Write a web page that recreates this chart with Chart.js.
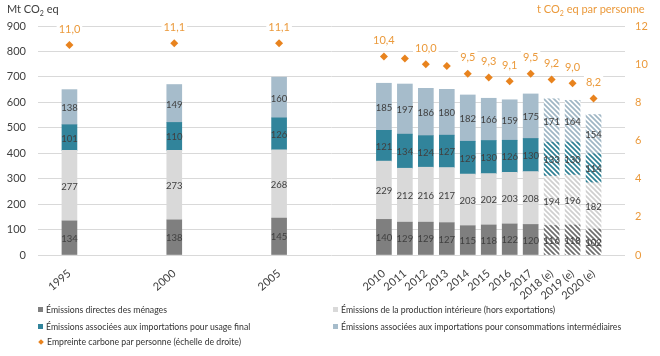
<!DOCTYPE html>
<html>
<head>
<meta charset="utf-8">
<script src="https://cdn.jsdelivr.net/npm/chart.js@4.4.1/dist/chart.umd.min.js"></script>
<style>
  html, body { margin: 0; padding: 0; background: #fff; }
  #wrap { position: relative; width: 660px; height: 356px; font-family: Lato, "Open Sans", sans-serif; }
  #c { position: absolute; left: 0; top: 0; }
  .ttl { position: absolute; font-size: 11px; white-space: nowrap; line-height: 1; }
  .leg { position: absolute; font-size: 8.7px; color: #333; white-space: nowrap; line-height: 1; }
  .leg i { display: inline-block; width: 5px; height: 5px; margin-right: 3px; vertical-align: 1px; }
  .leg i.dia { width: 4px; height: 4px; transform: rotate(45deg); margin-left: 1px; margin-right: 4px; }
</style>
</head>
<body>
<div id="wrap">
  <canvas id="c" width="660" height="356"></canvas>
  <div class="ttl" style="left:7px; top:3px; color:#404040;">Mt CO<sub style="font-size:7px;">2</sub> eq</div>
  <div class="ttl" style="left:537px; top:3px; color:#EB9A3C;">t CO<sub style="font-size:7px;">2</sub> eq par personne</div>
  <div id="legend"></div>
</div>
<script>
// ---- data ----
const years = [1995, 2000, 2005, 2010, 2011, 2012, 2013, 2014, 2015, 2016, 2017, 2018, 2019, 2020];
const yearLabels = ['1995', '2000', '2005', '2010', '2011', '2012', '2013', '2014', '2015', '2016', '2017', '2018 (e)', '2019 (e)', '2020 (e)'];
const directHouseholds   = [134, 138, 145, 140, 129, 129, 127, 115, 118, 122, 120, 116, 118, 102];
const domesticProduction = [277, 273, 268, 229, 212, 216, 217, 203, 202, 203, 208, 194, 196, 182];
const importsFinalUse    = [101, 110, 126, 121, 134, 124, 127, 129, 130, 126, 130, 133, 130, 114];
const importsIntermediate= [138, 149, 160, 185, 197, 186, 180, 182, 166, 159, 175, 171, 164, 154];
const perPerson          = [11.0, 11.1, 11.1, 10.4, 10.3, 10.0, 9.9, 9.5, 9.3, 9.1, 9.5, 9.2, 9.0, 8.2];
const perPersonLabels    = ['11,0', '11,1', '11,1', '10,4', '', '10,0', '', '9,5', '9,3', '9,1', '9,5', '9,2', '9,0', '8,2'];
const seriesNames = [
  'Émissions directes des ménages',
  'Émissions de la production intérieure (hors exportations)',
  'Émissions associées aux importations pour usage final',
  'Émissions associées aux importations pour consommations intermédiaires',
  'Empreinte carbone par personne (échelle de droite)'
];
const leftTicks = [0, 100, 200, 300, 400, 500, 600, 700, 800, 900];
const rightTicks = [0, 2, 4, 6, 8, 10, 12];

// ---- styles ----
const colors = ['#7f7f7f', '#d9d9d9', '#31849b', '#a6bccb'];
const hatchColors = ['#6f6f6f', '#cfcfcf', '#2f8094', '#9fb6c4'];
const orange = '#E8831E';
const orangeText = '#EB9A3C';

function hatch(color) {
  const s = 5;
  const c = document.createElement('canvas');
  c.width = s; c.height = s;
  const g = c.getContext('2d');
  g.fillStyle = '#ffffff';
  g.fillRect(0, 0, s, s);
  g.strokeStyle = color;
  g.lineWidth = 1.7;
  g.beginPath();
  g.moveTo(-1, -1); g.lineTo(s + 1, s + 1);
  g.moveTo(-s - 1, -1); g.lineTo(1, s + 1);
  g.moveTo(s - 1, -1); g.lineTo(2 * s + 1, s + 1);
  g.stroke();
  return g.createPattern(c, 'repeat');
}
const estimated = yearLabels.map(l => l.indexOf('(e)') >= 0);
const labelOf = {};
years.forEach((y, i) => { labelOf[y] = yearLabels[i]; });

function barDataset(name, values, idx) {
  const pat = hatch(hatchColors[idx]);
  return {
    type: 'bar',
    label: name,
    data: years.map((y, i) => ({ x: y, y: values[i] })),
    backgroundColor: years.map((y, i) => estimated[i] ? pat : colors[idx]),
    borderWidth: 0,
    barThickness: 15,
    yAxisID: 'y',
    order: 2
  };
}

const valueLabelPlugin = {
  id: 'valueLabels',
  afterDatasetsDraw(chart) {
    const ctx = chart.ctx;
    ctx.save();
    ctx.textAlign = 'center';
    ctx.textBaseline = 'middle';
    // bar labels
    ctx.font = '9.5px Lato';
    ctx.fillStyle = '#404040';
    for (let d = 0; d < 4; d++) {
      const meta = chart.getDatasetMeta(d);
      const ds = chart.data.datasets[d];
      meta.data.forEach((el, i) => {
        const p = el.getProps(['x', 'y', 'base'], true);
        ctx.fillText(String(ds.data[i].y), p.x, (p.y + p.base) / 2 + 1);
      });
    }
    // per-person labels
    const meta = chart.getDatasetMeta(4);
    ctx.font = '11px Lato';
    meta.data.forEach((el, i) => {
      const t = perPersonLabels[i];
      if (!t) return;
      const p = el.getProps(['x', 'y'], true);
      const w = ctx.measureText(t).width;
      const ty = p.y - 16;
      ctx.fillStyle = '#ffffff';
      ctx.fillRect(p.x - w / 2 - 2, ty - 7, w + 4, 14);
      ctx.fillStyle = orangeText;
      ctx.fillText(t, p.x, ty);
    });
    ctx.restore();
  }
};

Chart.defaults.font.family = 'Lato, "Open Sans", sans-serif';

new Chart(document.getElementById('c'), {
  type: 'bar',
  data: {
    datasets: [
      barDataset(seriesNames[0], directHouseholds, 0),
      barDataset(seriesNames[1], domesticProduction, 1),
      barDataset(seriesNames[2], importsFinalUse, 2),
      barDataset(seriesNames[3], importsIntermediate, 3),
      {
        type: 'line',
        label: seriesNames[4],
        data: years.map((y, i) => ({ x: y, y: perPerson[i] })),
        yAxisID: 'y1',
        showLine: false,
        pointStyle: 'rectRot',
        pointRadius: 4,
        pointBackgroundColor: orange,
        pointBorderColor: orange,
        pointBorderWidth: 0,
        order: 1
      }
    ]
  },
  options: {
    responsive: false,
    animation: false,
    devicePixelRatio: 1,
    layout: { padding: { top: 26, left: 0, right: 0, bottom: 0 } },
    plugins: { legend: { display: false }, tooltip: { enabled: false } },
    scales: {
      x: {
        type: 'linear',
        stacked: true,
        min: 1994.5,
        max: 2020.5,
        grid: { display: false },
        border: { display: false },
        afterBuildTicks: (s) => { s.ticks = years.map(v => ({ value: v })); },
        afterFit: (s) => { s.height = 101; },
        ticks: {
          autoSkip: false,
          minRotation: 40,
          maxRotation: 40,
          padding: 4,
          color: '#404040',
          font: { size: 11 },
          callback: (v) => labelOf[v] || ''
        }
      },
      y: {
        stacked: true,
        position: 'left',
        min: 0,
        max: 900,
        afterBuildTicks: (s) => { s.ticks = leftTicks.map(v => ({ value: v })); },
        afterFit: (s) => { s.width = 38; },
        grid: { color: '#d9d9d9', drawTicks: false, lineWidth: 1 },
        border: { display: false },
        ticks: { color: '#404040', font: { size: 11 }, padding: 12 }
      },
      y1: {
        position: 'right',
        min: 0,
        max: 12,
        afterBuildTicks: (s) => { s.ticks = rightTicks.map(v => ({ value: v })); },
        afterFit: (s) => { s.width = 35; },
        grid: { drawOnChartArea: false, drawTicks: false },
        border: { display: false },
        ticks: { color: orangeText, font: { size: 11 }, padding: 10 }
      }
    }
  },
  plugins: [valueLabelPlugin]
});

// ---- HTML legend ----
const legendPos = [
  { left: 38, top: 306 },
  { left: 333, top: 306 },
  { left: 38, top: 323 },
  { left: 333, top: 323 },
  { left: 38, top: 338 }
];
const legendColors = [colors[0], colors[1], colors[2], colors[3], orange];
const legEl = document.getElementById('legend');
seriesNames.forEach((n, i) => {
  const d = document.createElement('div');
  d.className = 'leg';
  d.style.left = legendPos[i].left + 'px';
  d.style.top = legendPos[i].top + 'px';
  const m = document.createElement('i');
  if (i === 4) m.className = 'dia';
  m.style.background = legendColors[i];
  d.appendChild(m);
  d.appendChild(document.createTextNode(n));
  legEl.appendChild(d);
});
</script>
</body>
</html>
